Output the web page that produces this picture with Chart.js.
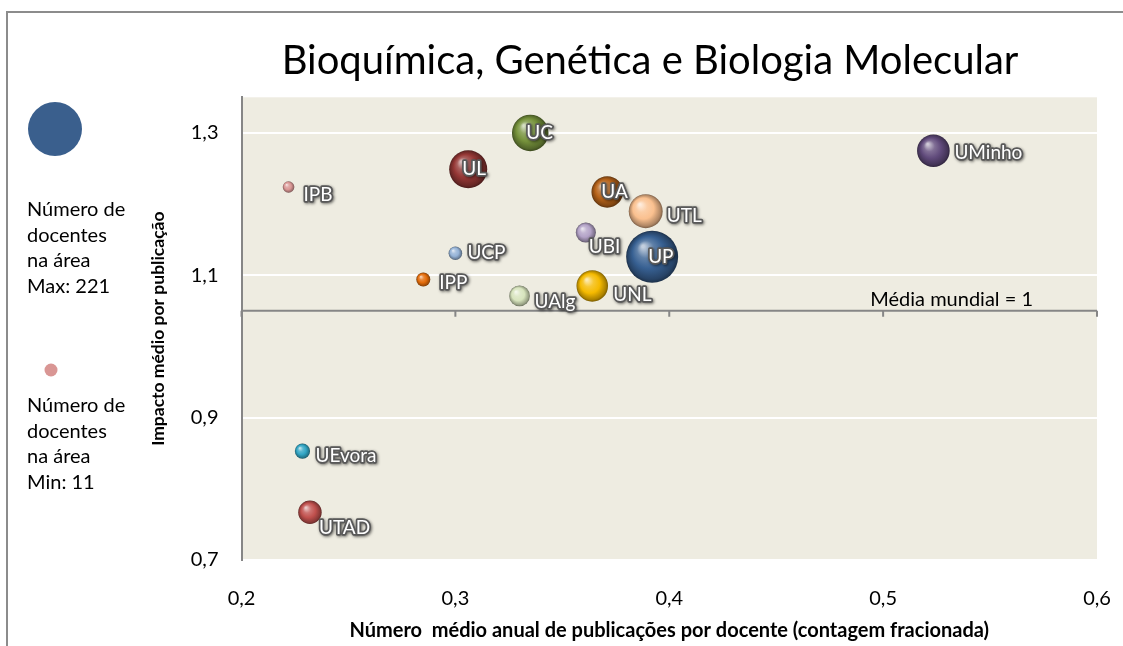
<!DOCTYPE html>
<html lang="pt">
<head>
<meta charset="utf-8">
<title>Bioquímica, Genética e Biologia Molecular</title>
<script src="https://cdn.jsdelivr.net/npm/chart.js@4.4.1/dist/chart.umd.min.js"></script>
<style>
  html, body { margin: 0; padding: 0; background: #fff; }
  #wrap { width: 1123px; height: 646px; position: relative; }
</style>
</head>
<body>
<div id="wrap"><canvas id="bubbleChart"></canvas></div>
<script>
// dados
var universidades = ['UC', 'UL', 'IPB', 'UA', 'UTL', 'UBI', 'UP', 'UCP', 'IPP', 'UNL', 'UAlg', 'UMinho', 'UEvora', 'UTAD'];
var publicacoesPorDocente = [0.335, 0.306, 0.222, 0.371, 0.389, 0.361, 0.392, 0.300, 0.285, 0.364, 0.330, 0.5235, 0.2285, 0.232];
var impactoMedio = [1.300, 1.249, 1.224, 1.217, 1.190, 1.160, 1.126, 1.131, 1.094, 1.085, 1.071, 1.275, 0.853, 0.767];
var docentes = [109, 118, 11, 81, 94, 33, 221, 15, 16, 81, 35, 87, 19, 45];

var xTicks = [0.2, 0.3, 0.4, 0.5, 0.6];
var yTicks = [0.7, 0.9, 1.1, 1.3];
var mediaMundial = 1.05; // onde o eixo horizontal cruza

var cores = ['#77933C', '#953735', '#D99694', '#B8641A', '#FAC08F', '#B3A2C7', '#376092',
             '#95B3D7', '#E46C0A', '#F5BA00', '#D7E4BD', '#604A7B', '#31A5C4', '#C0504D'];
// deslocamento do rótulo em relação ao centro da bolha
var rotuloDesloc = [[-4, 0], [-6, 0], [15, 8], [-6, 0], [21, 5], [3, 14], [-4, 0],
                    [12, 0], [16, 3], [21, 9], [15, 6], [21, 2], [13, 5], [9, 16]];

var raioMax = 26;
var docenteMax = Math.max.apply(null, docentes);

function mix(hex, alvo, t) {
    var n = parseInt(hex.slice(1), 16);
    var r = n >> 16, g = (n >> 8) & 255, b = n & 255;
    var a = alvo === 'white' ? 255 : 0;
    return 'rgb(' + Math.round(r + (a - r) * t) + ',' + Math.round(g + (a - g) * t) + ',' + Math.round(b + (a - b) * t) + ')';
}

function virgula(v) { return v.toFixed(1).replace('.', ','); }

var fundo = {
    id: 'fundo',
    beforeDraw: function (chart) {
        var ctx = chart.ctx, a = chart.chartArea;
        ctx.save();
        ctx.fillStyle = '#fff';
        ctx.fillRect(0, 0, chart.width, chart.height);
        ctx.fillStyle = '#EEECE1';
        ctx.fillRect(a.left, a.top, a.right - a.left, a.bottom - a.top);
        ctx.strokeStyle = '#8c8c8c';
        ctx.lineWidth = 2;
        ctx.beginPath();
        ctx.moveTo(7, chart.height);
        ctx.lineTo(7, 12);
        ctx.lineTo(chart.width, 12);
        ctx.stroke();

        ctx.fillStyle = '#000';
        ctx.font = '40px Lato';
        ctx.textAlign = 'center';
        ctx.textBaseline = 'middle';
        ctx.fillText('Bioquímica, Genética e Biologia Molecular', 650, 61);
        ctx.restore();
    },
    beforeDatasetsDraw: function (chart) {
        var ctx = chart.ctx, a = chart.chartArea;
        var y = chart.scales.y.getPixelForValue(mediaMundial);
        ctx.save();
        ctx.strokeStyle = '#868686';
        ctx.lineWidth = 2;
        ctx.beginPath();
        ctx.moveTo(a.left, y);
        ctx.lineTo(a.right, y);
        xTicks.forEach(function (v) {
            var x = chart.scales.x.getPixelForValue(v);
            ctx.moveTo(x, y);
            ctx.lineTo(x, y + 6);
        });
        ctx.stroke();
        ctx.fillStyle = '#000';
        ctx.font = '20px Lato';
        ctx.textAlign = 'right';
        ctx.textBaseline = 'middle';
        ctx.fillText('Média mundial = 1', a.right - 64, y - 11);
        ctx.restore();
    },
    afterDatasetsDraw: function (chart) {
        var ctx = chart.ctx;
        var meta = chart.getDatasetMeta(0);
        ctx.save();
        ctx.font = '19px Lato';
        ctx.textAlign = 'left';
        ctx.textBaseline = 'middle';
        ctx.lineJoin = 'round';
        meta.data.forEach(function (el, i) {
            var tx = el.x + rotuloDesloc[i][0], ty = el.y + rotuloDesloc[i][1];
            ctx.shadowColor = 'rgba(0,0,0,0.55)';
            ctx.shadowBlur = 3;
            ctx.shadowOffsetX = 1;
            ctx.shadowOffsetY = 1;
            ctx.strokeStyle = '#595959';
            ctx.lineWidth = 3.5;
            ctx.strokeText(universidades[i], tx, ty);
            ctx.shadowColor = 'transparent';
            ctx.fillStyle = '#fff';
            ctx.fillText(universidades[i], tx, ty);
        });
        ctx.restore();
    },
    afterDraw: function (chart) {
        var ctx = chart.ctx;
        ctx.save();
        ctx.fillStyle = '#3A5F8D';
        ctx.beginPath();
        ctx.arc(55, 129, 27, 0, Math.PI * 2);
        ctx.fill();
        ctx.fillStyle = '#D99694';
        ctx.beginPath();
        ctx.arc(51, 370, 6.5, 0, Math.PI * 2);
        ctx.fill();

        ctx.fillStyle = '#000';
        ctx.font = '20px Lato';
        ctx.textAlign = 'left';
        ctx.textBaseline = 'middle';
        ['Número de', 'docentes', 'na área', 'Max: ' + docenteMax].forEach(function (t, i) {
            ctx.fillText(t, 27, 210 + i * 25.5);
        });
        ['Número de', 'docentes', 'na área', 'Min: ' + Math.min.apply(null, docentes)].forEach(function (t, i) {
            ctx.fillText(t, 27, 406 + i * 25.5);
        });
        ctx.restore();
    }
};

var bubbleData = {
    datasets: [{
        label: 'Universidades',
        data: universidades.map(function (u, i) {
            return { x: publicacoesPorDocente[i], y: impactoMedio[i], r: raioMax * Math.sqrt(docentes[i] / docenteMax) };
        }),
        borderWidth: 0,
        backgroundColor: function (c) {
            var chart = c.chart;
            var cor = cores[c.dataIndex];
            if (c.type !== 'data' || !chart.chartArea || !chart.scales.x) return cor;
            var x = chart.scales.x.getPixelForValue(c.raw.x);
            var y = chart.scales.y.getPixelForValue(c.raw.y);
            var r = c.raw.r;
            var g = chart.ctx.createRadialGradient(x - r * 0.35, y - r * 0.4, r * 0.05, x, y, r);
            g.addColorStop(0, mix(cor, 'white', 0.7));
            g.addColorStop(0.3, mix(cor, 'white', 0.2));
            g.addColorStop(0.6, cor);
            g.addColorStop(0.9, mix(cor, 'black', 0.3));
            g.addColorStop(1, mix(cor, 'black', 0.5));
            return g;
        }
    }]
};

var bubbleOptions = {
    responsive: true,
    maintainAspectRatio: false,
    animation: false,
    events: [],
    layout: { padding: { left: 146.5, right: 24, top: 97.3, bottom: 0 } },
    plugins: {
        legend: { display: false },
        tooltip: { enabled: false }
    },
    scales: {
        x: {
            type: 'linear',
            min: 0.2,
            max: 0.6,
            afterFit: function (s) { s.height = 86; s.paddingLeft = 0; s.paddingRight = 0; },
            afterBuildTicks: function (s) { s.ticks = xTicks.map(function (v) { return { value: v }; }); },
            grid: { display: false },
            border: { display: false },
            ticks: {
                padding: 19,
                color: '#000',
                font: { family: 'Lato', size: 20 },
                callback: function (v) { return virgula(v); }
            },
            title: {
                display: true,
                text: 'Número  médio anual de publicações por docente (contagem fracionada)',
                color: '#000',
                font: { family: 'Lato', size: 20, weight: 'bold' },
                padding: { top: 0, bottom: 3 }
            }
        },
        y: {
            type: 'linear',
            min: 0.7,
            max: 1.35,
            afterFit: function (s) { s.width = 95; },
            afterBuildTicks: function (s) { s.ticks = yTicks.map(function (v) { return { value: v }; }); },
            grid: { color: '#ffffff', lineWidth: 2, drawTicks: false },
            border: { display: true, color: '#868686', width: 2 },
            ticks: {
                padding: 23,
                color: '#000',
                font: { family: 'Lato', size: 20 },
                callback: function (v) { return virgula(v); }
            },
            title: {
                display: true,
                text: 'Impacto médio por publicação',
                color: '#000',
                font: { family: 'Lato', size: 17.5, weight: 'bold' },
                padding: { top: 1, bottom: 0 }
            }
        }
    }
};

var ctx = document.getElementById('bubbleChart').getContext('2d');
new Chart(ctx, { type: 'bubble', data: bubbleData, options: bubbleOptions, plugins: [fundo] });
</script>
</body>
</html>
